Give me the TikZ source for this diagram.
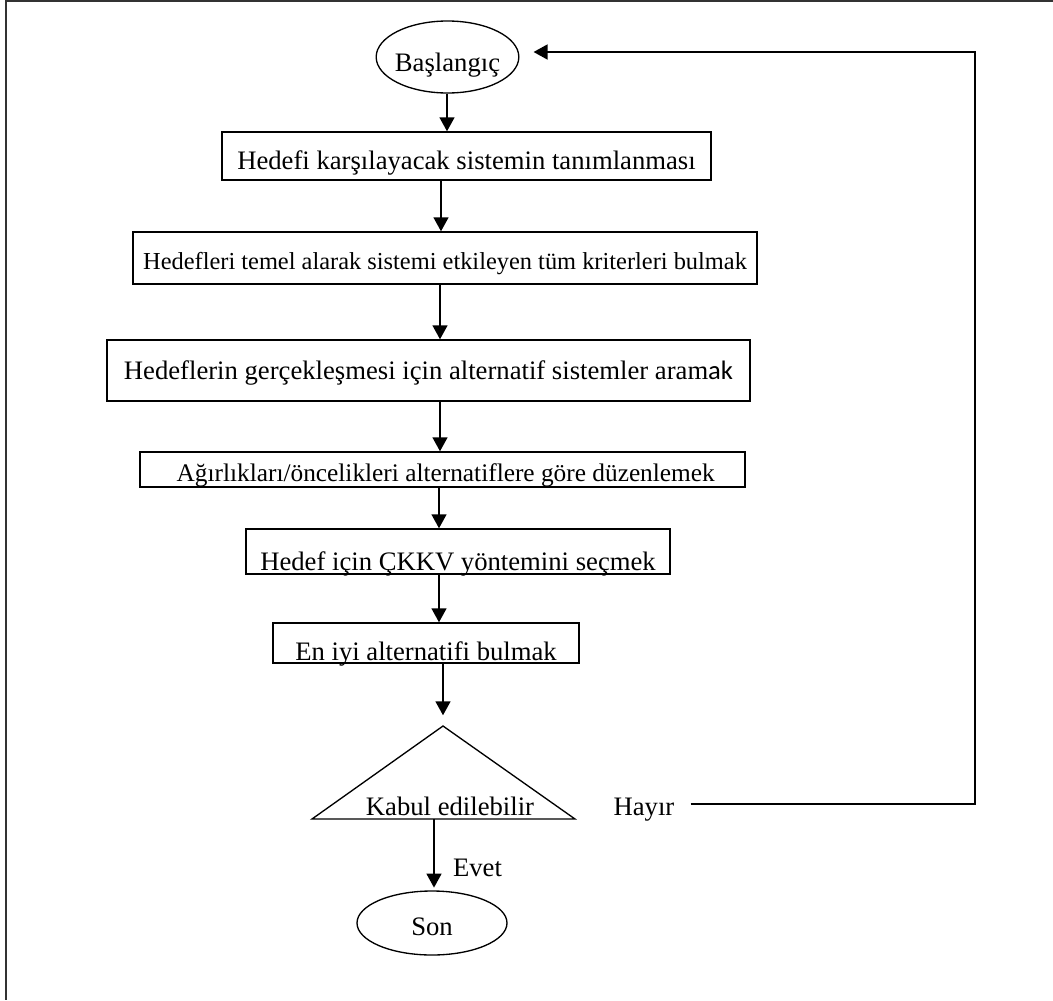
\documentclass[tikz,border=0pt]{standalone}
\usepackage{fontspec}
\setmainfont{Liberation Serif}
\newfontfamily\calib{Carlito}
\usetikzlibrary{arrows.meta,shapes.geometric}
\begin{document}
\begin{tikzpicture}[x=0.75pt,y=-0.75pt,
  txt/.style={font=\fontsize{20}{22}\selectfont},
  box/.style={txt,draw,line width=1pt,inner sep=0pt,anchor=base},
  term/.style={txt,draw,ellipse,line width=1pt,inner sep=0pt,inner xsep=-12pt},
  lbl/.style={txt,inner sep=0pt,anchor=base},
  flow/.style={line width=1.8pt,-{Triangle[length=10.5pt,width=11pt]}},
  frame/.style={line width=1.2pt,black!80}]
\useasboundingbox (0,0) rectangle (1053,1000);
\draw[frame] (1053,1) -- (6,1) -- (6,1000);

\node[term,minimum width=107pt,minimum height=54pt,text height=21pt,text depth=0pt] (start) at (447.5,57) {Başlangıç};

\node[box,minimum width=366.75pt,text height=27.75pt,text depth=8.25pt] (b1) at (466.5,169) {Hedefi karşılayacak sistemin tanımlanması};
\node[box,minimum width=468pt,text height=27.75pt,text depth=11.25pt,font=\fontsize{18.3}{20}\selectfont] (b2) at (445,269) {Hedefleri temel alarak sistemi etkileyen tüm kriterleri bulmak};
\node[box,minimum width=482.25pt,text height=29.25pt,text depth=16.5pt] (b3) at (428.5,379) {Hedeflerin gerçekleşmesi için alternatif sistemler aram{\calib ak}};
\node[box,minimum width=453.75pt,text height=21.75pt,text depth=4.5pt,font=\fontsize{19}{21}\selectfont] (b4) at (442.5,481) {\ Ağırlıkları/öncelikleri alternatiflere göre düzenlemek};
\node[box,minimum width=318pt,text height=30.75pt,text depth=3pt] (b5) at (458,570) {Hedef için ÇKKV yöntemini seçmek};
\node[box,minimum width=229.5pt,text height=27.75pt,text depth=2.25pt] (b6) at (426,660) {En iyi alternatifi bulmak};

\coordinate (tapex) at (443,726);
\coordinate (tleft) at (312,819);
\coordinate (tright) at (575,819);
\coordinate (tbase) at (434,819);
\draw[line width=1pt] (tapex) -- (tright) -- (tleft) -- cycle;
\node[lbl] (kabul) at (450,815) {Kabul edilebilir};
\node[lbl] (hayir) at (644,815) {Hayır};
\node[lbl] (evet) at (477.5,876) {Evet};

\node[term,minimum width=112.5pt,minimum height=48pt,text height=18pt,text depth=0pt] (son) at (432,923) {Son};

\coordinate (c1) at (975,804);
\coordinate (c2) at (975,52);

\draw[flow] (start.south -| 447,0) -- (b1.north -| 447,0);
\draw[flow] (b1.south -| 441,0) -- (b2.north -| 441,0);
\draw[flow] (b2.south -| 440,0) -- (b3.north -| 440,0);
\draw[flow] (b3.south -| 440,0) -- (b4.north -| 440,0);
\draw[flow] (b4.south -| 439,0) -- (b5.north -| 439,0);
\draw[flow] (b5.south -| 439,0) -- (b6.north -| 439,0);
\draw[flow] (b6.south -| tapex) -- ([yshift=8pt]tapex);
\draw[flow] (tbase) -- ([yshift=2pt]son.north -| tbase);
\draw[flow] ([xshift=12pt]hayir.east |- c1) -- (c1) -- (c2) -- ([xshift=10.5pt]start.east |- c2);
\end{tikzpicture}
\end{document}
